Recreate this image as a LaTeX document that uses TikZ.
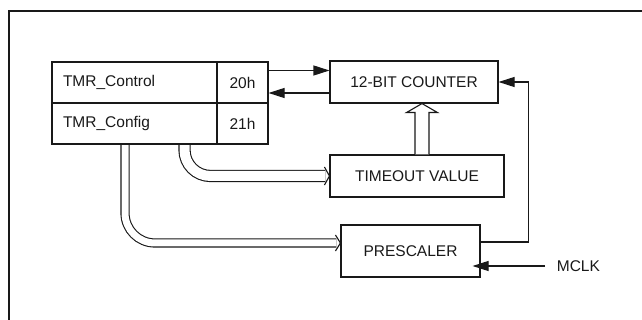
\documentclass[tikz,border=0pt]{standalone}
\usepackage{fontspec}
\setmainfont{Liberation Sans}
\usepackage{tikz}
\usetikzlibrary{calc}
\usetikzlibrary{arrows.meta}

\newcommand{\buschev}[2]{\draw (#1) ++(-5,-#2) -- (#1) -- ++(-5,#2);}

\begin{document}
\begin{tikzpicture}[x=1pt, y=-1pt, line width=1.1pt, color=black!90,
        font=\fontsize{15.5}{18}\selectfont,
        >={Triangle[length=16pt,width=10pt]},
        blk/.style={draw, inner sep=0pt},
        regname/.style={draw, text width=143pt, inner xsep=11pt, inner ysep=0pt, minimum height=41pt, align=left},
        regaddr/.style={draw, minimum width=51pt, minimum height=41pt, inner sep=0pt},
        bus/.style={double, double distance=#1}]
        \useasboundingbox (0,0) rectangle (642,320);
        % frame
        \draw[line width=1.5pt] (9,320) -- (9,11) -- (642,11);
        % register table
        \node[regname] (ctn) at (134.5,82.5) {TMR\_Control};
        \node[regaddr] (cta) at (242.5,82.5) {20h};
        \node[regname] (cfn) at (134.5,123.5) {TMR\_Config};
        \node[regaddr] (cfa) at (242.5,123.5) {21h};
        % blocks
        \node[blk, minimum width=168pt, minimum height=42pt] (cnt) at (414,82) {12-BIT COUNTER};
        \node[blk, minimum width=174pt, minimum height=42pt] (tmo) at (417,176) {TIMEOUT VALUE};
        \node[blk, minimum width=139pt, minimum height=52pt] (pre) at (410.5,251) {PRESCALER};
        \node[anchor=west] (mclk) at (553,266) {MCLK};
        % control and status
        \draw[->] ([yshift=12pt]cta.east) -- ([yshift=12pt]cta.east -| cnt.west);
        \draw[->] ([yshift=-11pt]cnt.west) -- ([yshift=-11pt]cnt.west -| cta.east);
        % prescaler to counter
        \draw[->] ([yshift=9pt]pre.east) -| ([xshift=30pt]cnt.east) -- (cnt.east);
        \draw[->] ([xshift=-8pt]mclk.west) -- ([xshift=-8pt]mclk.west -| pre.east);
        % timeout value into counter
        \coordinate (upbase) at (tmo.north -| 422,0);
        \coordinate (uptip) at (cnt.south -| 422,0);
        \draw[fill=white] ([xshift=-7pt]upbase) -- ([xshift=-7pt,yshift=-9pt]uptip)
                -- ([xshift=-15.5pt,yshift=-9pt]uptip) -- (uptip)
                -- ([xshift=15.5pt,yshift=-9pt]uptip) -- ([xshift=7pt,yshift=-9pt]uptip)
                -- ([xshift=7pt]upbase);
        % config buses
        \coordinate (b1end) at ([xshift=-4pt]tmo.west);
        \coordinate (b2end) at ([xshift=-4pt,yshift=8pt]pre.west);
        \draw[bus=10pt, rounded corners=26pt] ([xshift=50pt,yshift=-0.6pt]cfn.south) |- (b1end);
        \draw[bus=7pt, rounded corners=30pt] ([xshift=-9.5pt,yshift=-0.6pt]cfn.south) |- (b2end);
        \buschev{tmo.west}{9}
        \buschev{[yshift=8pt]pre.west}{8}
\end{tikzpicture}
\end{document}
